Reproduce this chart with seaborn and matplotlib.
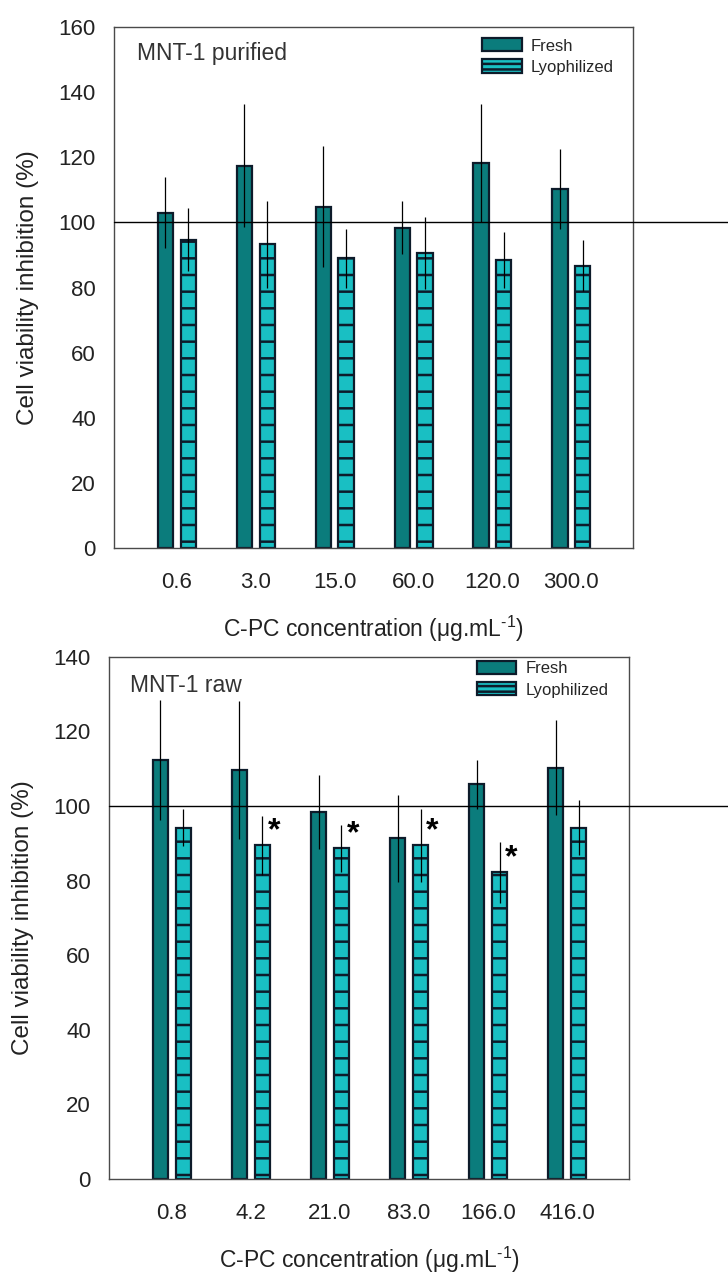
import numpy as np
import pandas as pd
import matplotlib
matplotlib.use("Agg")
import matplotlib.pyplot as plt
import seaborn as sns
from matplotlib.patches import Patch

# ---------------- data ----------------
groups = ["Fresh", "Lyophilized"]

conc_purified = ["0.6", "3.0", "15.0", "60.0", "120.0", "300.0"]
fresh_purified = [103.0, 117.4, 104.8, 98.3, 118.1, 110.2]
fresh_purified_err = [11.0, 18.8, 18.5, 8.1, 18.1, 12.3]
lyo_purified = [94.7, 93.2, 88.9, 90.6, 88.5, 86.7]
lyo_purified_err = [9.6, 13.2, 8.9, 11.1, 8.5, 7.8]

conc_raw = ["0.8", "4.2", "21.0", "83.0", "166.0", "416.0"]
fresh_raw = [112.4, 109.6, 98.3, 91.3, 105.8, 110.3]
fresh_raw_err = [16.1, 18.4, 9.9, 11.6, 6.5, 12.7]
lyo_raw = [94.2, 89.4, 88.6, 89.4, 82.2, 94.2]
lyo_raw_err = [4.9, 7.8, 6.4, 9.9, 8.2, 7.3]
raw_significant = [False, True, True, True, True, False]

yticks_purified = [0, 20, 40, 60, 80, 100, 120, 140, 160]
yticks_raw = [0, 20, 40, 60, 80, 100, 120, 140]

# ---------------- style ----------------
sns.set_style("white")
plt.rcParams["font.family"] = ["Liberation Sans", "DejaVu Sans"]
plt.rcParams["mathtext.fontset"] = "custom"
plt.rcParams["mathtext.rm"] = "Liberation Sans"
plt.rcParams["mathtext.it"] = "Liberation Sans:italic"
plt.rcParams["hatch.linewidth"] = 1.8

FRESH_COLOR = "#0b7c7c"
LYO_COLOR = "#19bfc3"
EDGE = "#0d1b2a"
SPINE = "#4a4a4a"
TEXT = "#222222"

W, H = 728, 1273
fig = plt.figure(figsize=(W / 100, H / 100), dpi=100)

ax_top = fig.add_axes([114 / W, (H - 548.3) / H, 519 / W, 521.6 / H])
ax_bot = fig.add_axes([109 / W, (H - 1179) / H, 520 / W, 522.3 / H])


def draw_panel(ax, cats, fresh, fresh_err, lyo, lyo_err, yticks, title, title_pos,
               legend_anchor, stars=None):
    df = pd.DataFrame({
        "conc": cats + cats,
        "value": fresh + lyo,
        "group": [groups[0]] * len(cats) + [groups[1]] * len(cats),
    })
    sns.barplot(data=df, x="conc", y="value", hue="group", order=cats,
                hue_order=groups, palette=[FRESH_COLOR, LYO_COLOR],
                width=0.58, gap=0.34, errorbar=None, saturation=1,
                edgecolor=EDGE, linewidth=1.6, ax=ax, legend=False, zorder=2)
    for p in ax.containers[1].patches:
        p.set_hatch("-")
    for cont, err in zip(ax.containers[:2], [fresh_err, lyo_err]):
        xs = [p.get_x() + p.get_width() / 2 for p in cont.patches]
        ys = [p.get_height() for p in cont.patches]
        ax.errorbar(xs, ys, yerr=err, fmt="none", ecolor="black",
                    elinewidth=0.9, capsize=0, zorder=5)
    if stars is not None:
        for p, sig in zip(ax.containers[1].patches, stars):
            if sig:
                xc = p.get_x() + p.get_width() / 2
                ax.text(xc + 0.15, p.get_height() + 3.8, "*", fontsize=23,
                        fontweight="bold", ha="center", va="center",
                        color="black", zorder=6)

    ax.set_xlim(-0.794, 5.78)
    ax.set_ylim(yticks[0], yticks[-1])
    ax.set_yticks(yticks)
    pos = ax.get_position()
    ax.axhline(100, xmin=0, xmax=(1 - pos.x0) / pos.width, color="black",
               lw=1.0, clip_on=False, zorder=4)

    for s in ax.spines.values():
        s.set_visible(True)
        s.set_color(SPINE)
        s.set_linewidth(1.0)
    ax.tick_params(axis="both", direction="out", length=5, width=1,
                   color=SPINE, labelsize=16, labelcolor=TEXT)
    ax.tick_params(axis="x", pad=12)
    ax.tick_params(axis="y", pad=8)
    ax.set_xlabel("C-PC concentration (μg.mL$^{\\text{-1}}$)",
                  fontsize=16.5, color=TEXT, labelpad=15)
    ax.set_ylabel("Cell viability inhibition (%)", fontsize=17.5,
                  color=TEXT, labelpad=14)
    ax.text(title_pos[0], title_pos[1], title, fontsize=16.5, color="#333333",
            ha="left", va="baseline")

    handles = [
        Patch(facecolor=FRESH_COLOR, edgecolor=EDGE, linewidth=1.6),
        Patch(facecolor=LYO_COLOR, edgecolor=EDGE, linewidth=1.6, hatch="---"),
    ]
    ax.legend(handles, groups, loc="upper left", bbox_to_anchor=legend_anchor,
              frameon=False, fontsize=12, handlelength=2.35, handleheight=0.85,
              handletextpad=0.55, labelspacing=0.35, borderpad=0,
              borderaxespad=0)


draw_panel(ax_top, conc_purified, fresh_purified, fresh_purified_err,
           lyo_purified, lyo_purified_err, yticks_purified,
           "MNT-1 purified", (-0.497, 149.8), (0.710, 0.978))
draw_panel(ax_bot, conc_raw, fresh_raw, fresh_raw_err, lyo_raw, lyo_raw_err,
           yticks_raw, "MNT-1 raw", (-0.528, 130.5), (0.708, 0.992),
           stars=raw_significant)

fig.savefig("out.png", dpi=100)
